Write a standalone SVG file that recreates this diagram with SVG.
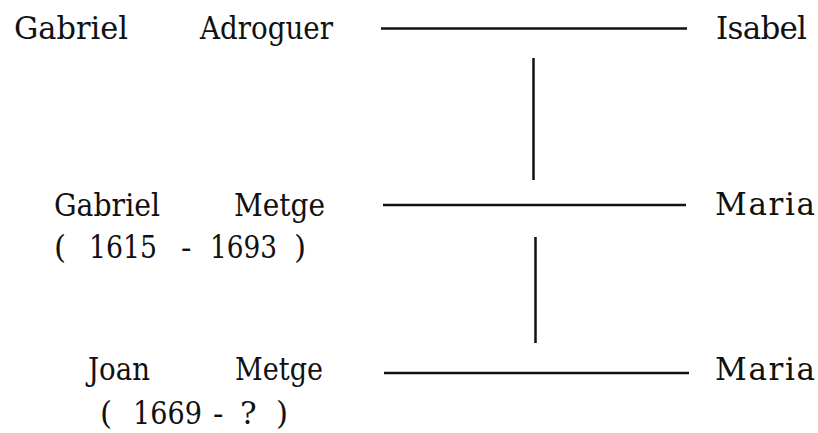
<svg xmlns="http://www.w3.org/2000/svg" width="818" height="433" viewBox="0 0 818 433">
<style>
.t{font-family:'DejaVu Serif','Liberation Serif',serif;font-size:31px;fill:#111}
.ln{stroke:#111;stroke-width:2.5;fill:none}
</style>
<rect width="818" height="433" fill="#fff"/>
<g id="connectors">
<line class="ln" x1="381" y1="28.5" x2="687" y2="28.5"/>
<line class="ln" x1="533.5" y1="58" x2="533.5" y2="180"/>
<line class="ln" x1="383" y1="205" x2="686" y2="205"/>
<line class="ln" x1="535.5" y1="237" x2="535.5" y2="343"/>
<line class="ln" x1="384" y1="373" x2="689" y2="373"/>
</g>
<g class="t">
<g id="gabriel-adroguer">
<text x="14" y="39" textLength="114" lengthAdjust="spacingAndGlyphs">Gabriel</text>
<text x="200" y="39" textLength="133" lengthAdjust="spacingAndGlyphs">Adroguer</text>
</g>
<g id="isabel">
<text x="716" y="39" textLength="91" lengthAdjust="spacing">Isabel</text>
</g>
<g id="gabriel-metge">
<text x="54" y="216" textLength="106" lengthAdjust="spacingAndGlyphs">Gabriel</text>
<text x="234" y="216" textLength="91" lengthAdjust="spacingAndGlyphs">Metge</text>
<text x="54" y="258">(<tspan x="89" textLength="68" lengthAdjust="spacingAndGlyphs">1615</tspan><tspan x="181">-</tspan><tspan x="210" textLength="67" lengthAdjust="spacingAndGlyphs">1693</tspan><tspan x="294">)</tspan></text>
</g>
<g id="maria-1">
<text x="715" y="215" textLength="100" lengthAdjust="spacing">Maria</text>
</g>
<g id="joan-metge">
<text x="88" y="380" textLength="62" lengthAdjust="spacingAndGlyphs">Joan</text>
<text x="235" y="380" textLength="88" lengthAdjust="spacingAndGlyphs">Metge</text>
<text x="100" y="424">(<tspan x="133" textLength="69" lengthAdjust="spacingAndGlyphs">1669</tspan><tspan x="213">-</tspan><tspan x="240">?</tspan><tspan x="276">)</tspan></text>
</g>
<g id="maria-2">
<text x="715" y="380" textLength="100" lengthAdjust="spacing">Maria</text>
</g>
</g>
</svg>
